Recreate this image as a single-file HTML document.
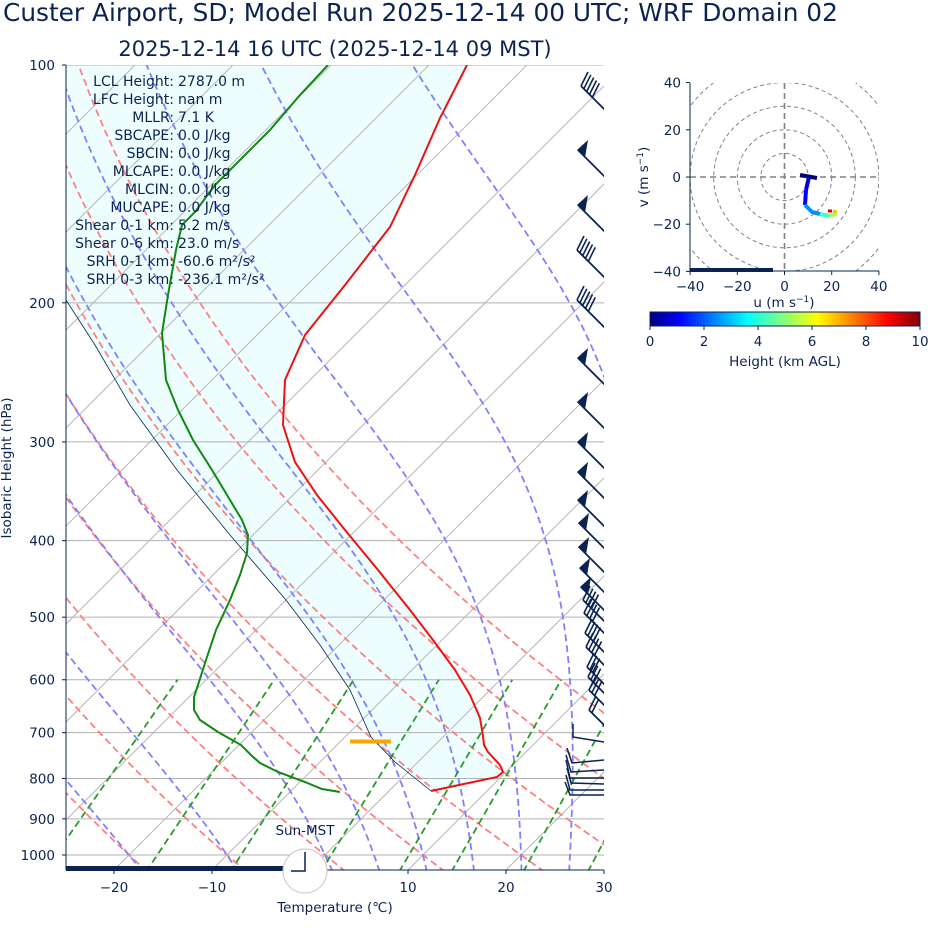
<!DOCTYPE html>
<html><head><meta charset="utf-8"><style>
body{margin:0;background:#fff;width:928px;height:936px;overflow:hidden;font-family:"Liberation Sans","DejaVu Sans",sans-serif}
svg text{font-family:"DejaVu Sans","Liberation Sans",sans-serif;fill:#0b2350}
</style></head><body>
<svg id="s" width="928" height="936" viewBox="0 0 928 936" xmlns="http://www.w3.org/2000/svg">
<defs>
<clipPath id="c"><rect x="66" y="65" width="538" height="805"/></clipPath>
<clipPath id="hc"><rect x="690" y="83" width="189" height="188"/></clipPath>
<linearGradient id="jet" x1="0" x2="1" y1="0" y2="0">
<stop offset="0" stop-color="#00007f"/><stop offset="0.11" stop-color="#0000ff"/><stop offset="0.36" stop-color="#00ffff"/><stop offset="0.62" stop-color="#ffff00"/><stop offset="0.88" stop-color="#ff0000"/><stop offset="1" stop-color="#7f0000"/>
</linearGradient>
</defs>
<text x="3" y="21" font-size="24.8">Custer Airport, SD; Model Run 2025-12-14 00 UTC; WRF Domain 02</text>
<text x="335" y="56" font-size="21" text-anchor="middle">2025-12-14 16 UTC  (2025-12-14 09 MST)</text>
<g id="sk" clip-path="url(#c)"></g>
<g id="ov"></g>
</svg>
<script>
var NS="http://www.w3.org/2000/svg",sk=document.getElementById('sk'),ov=document.getElementById('ov');
function el(p,t,a,txt){var e=document.createElementNS(NS,t);for(var k in a)e.setAttribute(k,a[k]);if(txt!=null)e.textContent=txt;p.appendChild(e);return e;}
function yP(p){return 65+790*Math.log10(p/100);}
function xT(T,y){return 114+(T+20)*9.8+(870-y);}
function line(pts,st,g){el(g||sk,'polyline',Object.assign({points:pts.map(function(q){return q[0].toFixed(1)+','+q[1].toFixed(1)}).join(' '),fill:'none'},st));}
var temp=[[431,791],[459,785],[497,777],[503,772],[500,765],[488,752],[484,745],[483,736],[480,718],[470,695],[455,670],[433,640],[410,610],[378,570],[345,530],[317,495],[295,462],[283,425],[285,380],[305,335],[345,285],[390,227],[415,175],[440,118],[467,65]];
var parcel=[[431,791],[395,762],[371,737],[350,690],[320,645],[286,600],[230,535],[177,470],[130,405],[95,345],[66,300]];
var poly=temp.concat([[66,65]]).concat(parcel.slice().reverse());
el(sk,'polygon',{points:poly.map(function(q){return q.join(',')}).join(' '),fill:'#eefefe'});
[100,200,300,400,500,600,700,800,900,1000].forEach(function(p){var y=yP(p);el(sk,'line',{x1:66,x2:604,y1:y,y2:y,stroke:'#b0b0b0','stroke-width':1});});
for(var T=-120;T<=40;T+=10){line([[xT(T,870),870],[xT(T,65),65]],{stroke:'#b8b8b8','stroke-width':1});}
for(var t0=-30;t0<=50;t0+=10){var pts=[];for(var p=1050;p>=100;p-=10){var Tk=(t0+273.15)*Math.pow(p/1000,0.2857);var y=yP(p);pts.push([xT(Tk-273.15,y),y]);}line(pts,{stroke:'#ff8080','stroke-width':1.8,'stroke-dasharray':'7,4'});}
function es(Tc){return 6.112*Math.exp(17.67*Tc/(Tc+243.5));}
function dTdp(T,p){var rs=0.622*es(T-273.15)/(p-es(T-273.15));return (287.04*T+2.501e6*rs)/(p*(1005.7+2.501e6*2.501e6*rs*0.622/(287.04*T*T)));}
var mt=[-50,-40,-30,-20,-10,0,5,10,15,20,25,30,35,40,45];
mt.forEach(function(t0){var pts=[],T=t0+273.15,p=1000,h=2;
 var T2=T;for(var pp=1000;pp<1050;pp+=h){T2+=dTdp(T2,pp)*h;}pts.push([xT(T2-273.15,yP(1050)),yP(1050)]);
 while(p>=100){var y=yP(p);pts.push([xT(T-273.15,y),y]);T-=dTdp(T,p)*h;p-=h;}
 line(pts,{stroke:'#8080ff','stroke-width':1.8,'stroke-dasharray':'7,4'});});
[0.0004,0.001,0.002,0.004,0.007,0.01,0.016,0.024,0.032].forEach(function(w){var pts=[];[1050,600].forEach(function(p){var e=p*w/(0.622+w),l=Math.log(e/6.112),Td=243.5*l/(17.67-l),y=yP(p);pts.push([xT(Td,y),y]);});line(pts,{stroke:'#2a9a2a','stroke-width':1.8,'stroke-dasharray':'7,4'});});
line(parcel,{stroke:'#0b2350','stroke-width':0.8});
line(temp,{stroke:'#f01010','stroke-width':2});
line([[340,792],[322,789],[305,782],[278,772],[260,763],[252,756],[241,745],[218,732],[200,720],[194,710],[194,697],[198,685],[206,660],[216,630],[230,600],[240,575],[247,553],[248,535],[242,520],[230,500],[212,470],[193,440],[178,410],[166,380],[162,333],[168,295],[176,250],[182,225],[195,212],[215,185],[240,160],[270,130],[300,95],[328,65]],{stroke:'#118811','stroke-width':2});
el(sk,'line',{x1:350,x2:391,y1:741.5,y2:741.5,stroke:'#ffa500','stroke-width':4});
function barb(tx,ty,type,n){var dx=30,dy=30,L=Math.hypot(dx,dy),ux=dx/L,uy=dy/L;var g=sk;
 el(g,'line',{x1:tx,y1:ty,x2:tx+dx,y2:ty+dy,stroke:'#0b2350','stroke-width':1.8});
 if(type=='p'){el(g,'polygon',{points:[tx-1,ty,tx+ux*10,ty+uy*10,tx+10,ty-10].join(','),fill:'#0b2350'});}
 else{for(var i=0;i<n;i++){var bx=tx+ux*i*4,by=ty+uy*i*4;el(g,'line',{x1:bx,y1:by,x2:bx+7,y2:by-14,stroke:'#0b2350','stroke-width':1.6});}}
}
[[586,38,'b',5],[581,86,'b',5],[578,150,'p'],[578,205,'p'],[577,250,'b',5],[577,300,'b',5],[578,358,'p'],[578,402,'p'],[578,442,'p'],[578,472,'p'],[578,500,'p'],[579,523,'p'],[579,547,'p'],[580,568,'p'],[581,587,'p'],[583,600,'b',4],[584,613,'b',4],[585,633,'b',4],[586,647,'b',4],[587,667,'b',3],[588,677,'b',3],[589,690,'b',3],[589,710,'b',2]].forEach(function(b){barb(b[0],b[1],b[2],b[3]);});
[[573,724,573,737,604,742],[567,748,572,763,604,760],[566,755,571,772,604,770],[566,760,570,778,604,778],[567,768,571,783,604,784],[566,775,570,790,604,790],[565,782,570,795,604,795]].forEach(function(a){line([[a[0],a[1]],[a[2],a[3]],[a[4],a[5]]],{stroke:'#0b2350','stroke-width':1.5});});
el(ov,'rect',{x:66,y:866,width:217,height:5,fill:'#0b2350'});
el(ov,'line',{x1:66,y1:65,x2:66,y2:870,stroke:'#0b2350','stroke-width':1});
el(ov,'line',{x1:66,y1:870,x2:604,y2:870,stroke:'#0b2350','stroke-width':1});
[100,200,300,400,500,600,700,800,900,1000].forEach(function(p){var y=yP(p);el(ov,'line',{x1:62,x2:66,y1:y,y2:y,stroke:'#0b2350'});el(ov,'text',{x:55,y:y+5,'font-size':13.5,'text-anchor':'end'},String(p));});
[-20,-10,0,10,20,30].forEach(function(t){var x=114+(t+20)*9.8;el(ov,'line',{x1:x,x2:x,y1:870,y2:874,stroke:'#0b2350'});el(ov,'text',{x:x,y:892,'font-size':13.5,'text-anchor':'middle'},(t<0?'\u2212'+(-t):String(t)));});
el(ov,'text',{x:335,y:912,'font-size':13.5,'text-anchor':'middle'},'Temperature (\u2103)');
el(ov,'text',{x:11,y:468,'font-size':13.5,'text-anchor':'middle',transform:'rotate(-90 11 468)'},'Isobaric Height (hPa)');
el(ov,'circle',{cx:305,cy:871,r:22,fill:'#fff',stroke:'#c8c8c8','stroke-width':1});
line([[305,852],[305,871],[291,871]],{stroke:'#0b2350','stroke-width':1.5},ov);
el(ov,'text',{x:305,y:835,'font-size':13.5,'text-anchor':'middle'},'Sun-MST');
var tb=[['LCL Height:','2787.0 m'],['LFC Height:','nan m'],['MLLR:','7.1 K'],['SBCAPE:','0.0 J/kg'],['SBCIN:','0.0 J/kg'],['MLCAPE:','0.0 J/kg'],['MLCIN:','0.0 J/kg'],['MUCAPE:','0.0 J/kg'],['Shear 0-1 km:','5.2 m/s'],['Shear 0-6 km:','23.0 m/s'],['SRH 0-1 km:','-60.6 m\u00b2/s\u00b2'],['SRH 0-3 km:','-236.1 m\u00b2/s\u00b2']];
tb.forEach(function(r,i){var y=86+i*18;el(ov,'text',{x:174,y:y,'font-size':14,'text-anchor':'end'},r[0]);el(ov,'text',{x:178,y:y,'font-size':14},r[1]);});
var cx=784.5,cy=177,sc=2.36,hg=el(ov,'g',{'clip-path':'url(#hc)'});
[10,20,30,40,50].forEach(function(r){el(hg,'circle',{cx:cx,cy:cy,r:r*sc,fill:'none',stroke:'#808080','stroke-dasharray':'4,3','stroke-width':1});});
el(hg,'line',{x1:690,x2:879,y1:cy,y2:cy,stroke:'#808080','stroke-width':1.6,'stroke-dasharray':'6,4'});
el(hg,'line',{x1:cx,x2:cx,y1:83,y2:271,stroke:'#808080','stroke-width':1.6,'stroke-dasharray':'6,4'});
el(ov,'rect',{x:690,y:268,width:83,height:4,fill:'#0b2350'});
line([[800,175],[817,178]],{stroke:'#00007f','stroke-width':4},ov);
line([[809,177],[806,190]],{stroke:'#0000d0','stroke-width':4},ov);
line([[806,190],[805,205]],{stroke:'#0000ff','stroke-width':4},ov);
line([[805,205],[812,212],[820,214]],{stroke:'#0090ff','stroke-width':4},ov);
line([[820,214],[830,216]],{stroke:'#40ffc0','stroke-width':4},ov);
line([[830,216],[837,213]],{stroke:'#a0ff60','stroke-width':4},ov);
line([[837,212],[833,211]],{stroke:'#ffc000','stroke-width':3},ov);
line([[832,211],[828,211]],{stroke:'#e00000','stroke-width':3},ov);
el(ov,'line',{x1:690,y1:83,x2:690,y2:271,stroke:'#0b2350'});
el(ov,'line',{x1:690,y1:271,x2:879,y2:271,stroke:'#0b2350'});
[-40,-20,0,20,40].forEach(function(v){var x=cx+v*sc,y=cy-v*sc;var s=v<0?'\u2212'+(-v):String(v);
 el(ov,'line',{x1:x,x2:x,y1:271,y2:275,stroke:'#0b2350'});el(ov,'text',{x:x,y:291,'font-size':13.5,'text-anchor':'middle'},s);
 el(ov,'line',{x1:686,x2:690,y1:y,y2:y,stroke:'#0b2350'});el(ov,'text',{x:681,y:y+5,'font-size':13.5,'text-anchor':'end'},s);});
var ut=el(ov,'text',{x:784,y:307,'font-size':13.5,'text-anchor':'middle'},'u (m s');el(ut,'tspan',{dy:-5,'font-size':9},'\u22121');el(ut,'tspan',{dy:5},')');
var vt=el(ov,'text',{x:648,y:177,'font-size':13.5,'text-anchor':'middle',transform:'rotate(-90 648 177)'},'v (m s');el(vt,'tspan',{dy:-5,'font-size':9},'\u22121');el(vt,'tspan',{dy:5},')');
el(ov,'rect',{x:650,y:312,width:270,height:14,fill:'url(#jet)',stroke:'#0b2350','stroke-width':1});
[0,2,4,6,8,10].forEach(function(v){var x=650+v*27;el(ov,'line',{x1:x,x2:x,y1:326,y2:330,stroke:'#0b2350'});el(ov,'text',{x:x,y:346,'font-size':13.5,'text-anchor':'middle'},String(v));});
el(ov,'text',{x:785,y:366,'font-size':13.5,'text-anchor':'middle'},'Height (km AGL)');
</script>
</body></html>
